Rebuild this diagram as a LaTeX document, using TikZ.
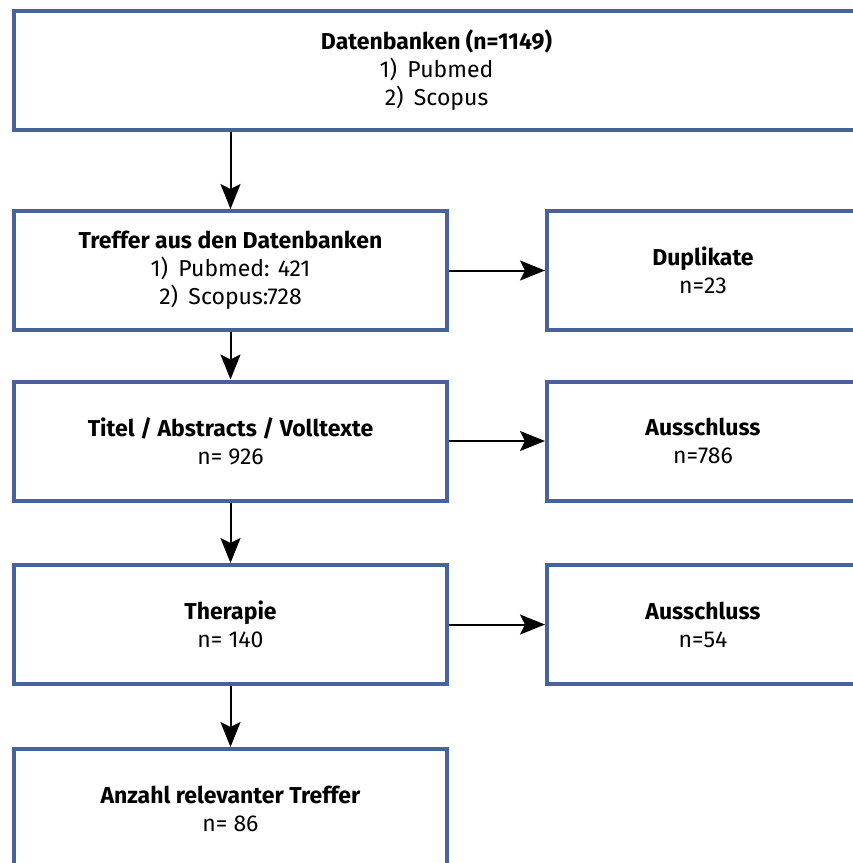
\documentclass[tikz,border=0pt]{standalone}
\usepackage{fontspec}
\setmainfont{Fira Sans}
\usepackage{tikz}
\usetikzlibrary{
    arrows.meta,
    calc
}

\definecolor{boxblue}{HTML}{48639C}

\begin{document}
\begin{tikzpicture}[x=1pt,y=-1pt,
    box/.style={draw=boxblue, line width=4pt, fill=white, align=center,
        minimum height=119pt, inner sep=0pt,
        font=\fontsize{23}{28}\selectfont},
    leftbox/.style={box, minimum width=433pt},
    rightbox/.style={box, minimum width=312pt},
    flow/.style={line width=2pt, -{Stealth[length=25pt,width=20pt,inset=5pt]}}
]

% Page
\useasboundingbox (0,0) rectangle (853,863);
\clip (0,0) rectangle (853,863);

% Boxes (left column)
\node[box, minimum width=845pt] (db) at (436.5,70.5)
    {\textbf{Datenbanken (n=1149)}\\1)\hspace{0.45em}Pubmed\\2)\hspace{0.45em}Scopus};
\node[leftbox] (hits) at (230.5,270.5)
    {\textbf{Treffer aus den Datenbanken}\\1)\hspace{0.45em}Pubmed: 421\\2)\hspace{0.45em}Scopus:728};
\node[leftbox] (title) at (230.5,441)
    {\textbf{Titel / Abstracts / Volltexte}\\n= 926};
\node[leftbox] (therapy) at (230.5,624.5)
    {\textbf{Therapie}\\n= 140};
\node[leftbox] (result) at (230.5,808.5)
    {\textbf{Anzahl relevanter Treffer}\\n= 86};

% Boxes (right column)
\node[rightbox] (dup) at (703,270.5) {\textbf{Duplikate}\\n=23};
\node[rightbox] (excl1) at (703,441) {\textbf{Ausschluss}\\n=786};
\node[rightbox] (excl2) at (703,624.5) {\textbf{Ausschluss}\\n=54};

% Arrows
\draw[flow] (db.south -| hits.north) -- (hits.north);
\draw[flow] (hits) -- (title);
\draw[flow] (title) -- (therapy);
\draw[flow] (therapy) -- (result);
\draw[flow] (hits) -- (dup);
\draw[flow] (title) -- (excl1);
\draw[flow] (therapy) -- (excl2);

\end{tikzpicture}
\end{document}
